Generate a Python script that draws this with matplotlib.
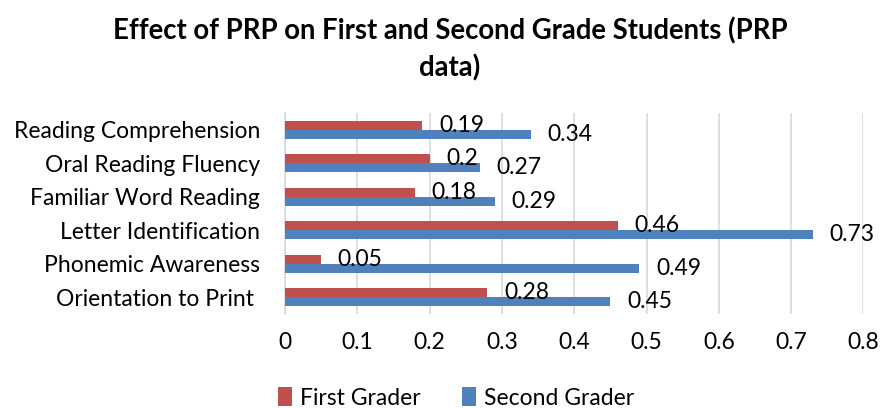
import matplotlib.pyplot as plt
import numpy as np

# Data (bottom to top as drawn)
categories = ['Orientation to Print ', 'Phonemic Awareness', 'Letter Identification',
              'Familiar Word Reading', 'Oral Reading Fluency', 'Reading Comprehension']
first_grader = [0.28, 0.05, 0.46, 0.18, 0.2, 0.19]
second_grader = [0.45, 0.49, 0.73, 0.29, 0.27, 0.34]
first_labels = ['0.28', '0.05', '0.46', '0.18', '0.2', '0.19']
second_labels = ['0.45', '0.49', '0.73', '0.29', '0.27', '0.34']

plt.rcParams['font.family'] = ['Lato', 'DejaVu Sans']

red = '#C0504D'
blue = '#4F81BD'

fig = plt.figure(figsize=(8.82, 4.08), dpi=100)
ax = fig.add_axes([0.323, 0.230, 0.656, 0.493])

y = np.arange(len(categories))
h = 0.27
ax.barh(y + h / 2, first_grader, height=h, color=red, label='First Grader', zorder=3)
ax.barh(y - h / 2, second_grader, height=h, color=blue, label='Second Grader', zorder=3)

# value labels to the right of each bar end
for i in range(len(categories)):
    ax.annotate(first_labels[i], (first_grader[i], y[i] + h / 2), xytext=(12, 0),
                textcoords='offset points', va='center', ha='left', fontsize=16.5, zorder=4)
    ax.annotate(second_labels[i], (second_grader[i], y[i] - h / 2), xytext=(12, 0),
                textcoords='offset points', va='center', ha='left', fontsize=16.5, zorder=4)

ax.set_xlim(0, 0.8)
ax.set_ylim(-0.5, len(categories) - 0.5)
ax.set_xticks(np.arange(0, 0.81, 0.1))
ax.set_xticklabels(['0', '0.1', '0.2', '0.3', '0.4', '0.5', '0.6', '0.7', '0.8'])
ax.set_yticks(y)
ax.set_yticklabels(categories)
ax.tick_params(axis='both', length=0, labelsize=16.5)
ax.tick_params(axis='x', pad=13)
ax.tick_params(axis='y', pad=18)

ax.grid(axis='x', color='#D9D9D9', linewidth=1.2, zorder=0)
for s in ['top', 'right', 'bottom']:
    ax.spines[s].set_visible(False)
ax.spines['left'].set_color('#D9D9D9')
ax.spines['left'].set_linewidth(1.2)

fig.text(0.51, 0.925, 'Effect of PRP on First and Second Grade Students (PRP',
         ha='center', va='center', fontsize=19.8, fontweight='bold')
fig.text(0.51, 0.833, 'data)', ha='center', va='center', fontsize=19.8, fontweight='bold')

fig.legend(loc='center', bbox_to_anchor=(0.517, 0.025), ncol=2, frameon=False,
           fontsize=16.5, handlelength=0.6, handleheight=0.9, columnspacing=1.8,
           handletextpad=0.35)

fig.savefig('out.png', dpi=100)
